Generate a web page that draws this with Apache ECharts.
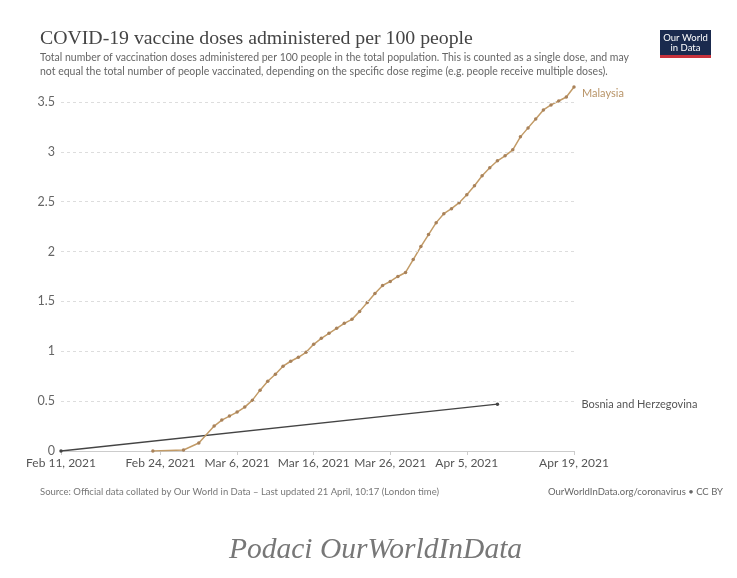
<!DOCTYPE html>
<html>
<head>
<meta charset="utf-8">
<script src="https://cdn.jsdelivr.net/npm/echarts@6/dist/echarts.min.js"></script>
<style>
html,body{margin:0;padding:0;background:#fff;}
#chart{width:737px;height:578px;}
</style>
</head>
<body>
<div id="chart"></div>
<script>
// ---- Data ----
const malaysiaDates = [
  '2021-02-23','2021-02-27','2021-03-01','2021-03-03','2021-03-04','2021-03-05','2021-03-06','2021-03-07',
  '2021-03-08','2021-03-09','2021-03-10','2021-03-11','2021-03-12','2021-03-13','2021-03-14','2021-03-15',
  '2021-03-16','2021-03-17','2021-03-18','2021-03-19','2021-03-20','2021-03-21','2021-03-22','2021-03-23',
  '2021-03-24','2021-03-25','2021-03-26','2021-03-27','2021-03-28','2021-03-29','2021-03-30','2021-03-31',
  '2021-04-01','2021-04-02','2021-04-03','2021-04-04','2021-04-05','2021-04-06','2021-04-07','2021-04-08',
  '2021-04-09','2021-04-10','2021-04-11','2021-04-12','2021-04-13','2021-04-14','2021-04-15','2021-04-16',
  '2021-04-17','2021-04-18','2021-04-19'
];
const malaysiaValues = [
  0.00,0.01,0.08,0.25,0.31,0.35,0.39,0.44,
  0.51,0.61,0.70,0.77,0.85,0.90,0.94,0.99,
  1.07,1.13,1.18,1.23,1.28,1.32,1.40,1.49,
  1.58,1.66,1.70,1.75,1.79,1.92,2.05,2.17,
  2.29,2.38,2.43,2.49,2.57,2.66,2.76,2.84,
  2.91,2.96,3.02,3.15,3.24,3.33,3.42,3.47,
  3.51,3.55,3.65
];
const bosniaDates = ['2021-02-11','2021-04-09'];
const bosniaValues = [0, 0.47];
const xTickDates = ['2021-02-11','2021-02-24','2021-03-06','2021-03-16','2021-03-26','2021-04-05','2021-04-19'];
const yTicks = [0,0.5,1,1.5,2,2.5,3,3.5];
const monthNames = ['Jan','Feb','Mar','Apr','May','Jun','Jul','Aug','Sep','Oct','Nov','Dec'];

function ts(s){ const p = s.split('-').map(Number); return Date.UTC(p[0], p[1]-1, p[2]); }
function fmt(v){ const d = new Date(v); return monthNames[d.getUTCMonth()] + ' ' + d.getUTCDate() + ', ' + d.getUTCFullYear(); }

const malaysiaData = malaysiaDates.map((d,i)=>[ts(d), malaysiaValues[i]]);
const bosniaData = bosniaDates.map((d,i)=>[ts(d), bosniaValues[i]]);
const xTicks = xTickDates.map(ts);

const chart = echarts.init(document.getElementById('chart'), null, {renderer:'canvas'});
const option = {
  backgroundColor:'#ffffff',
  animation:false,
  title:[
    {text:'COVID-19 vaccine doses administered per 100 people', left:40, top:29, padding:0,
     textStyle:{fontFamily:'Liberation Serif', fontSize:19.8, fontWeight:'normal', color:'#444'}},
    {text:'Total number of vaccination doses administered per 100 people in the total population. This is counted as a single dose, and may\nnot equal the total number of people vaccinated, depending on the specific dose regime (e.g. people receive multiple doses).',
     left:40, top:51, padding:0, textStyle:{fontFamily:'Lato', fontSize:10.5, fontWeight:'normal', color:'#666', lineHeight:14}}
  ],
  grid:{left:61, right:163, top:87, bottom:127, containLabel:false},
  xAxis:{
    type:'value', min:ts('2021-02-11'), max:ts('2021-04-19'),
    axisLine:{show:true, lineStyle:{color:'#ccc', width:1}},
    axisTick:{show:true, customValues:xTicks, length:4, lineStyle:{color:'#ccc'}},
    axisLabel:{customValues:xTicks, formatter:v=>fmt(v), color:'#555', fontFamily:'Lato', fontSize:12, margin:6, hideOverlap:false},
    splitLine:{show:false}
  },
  yAxis:{
    type:'value', min:0, max:3.65,
    axisLine:{show:false}, axisTick:{show:false},
    axisLabel:{customValues:yTicks, color:'#666', fontFamily:'Lato', fontSize:12.5, margin:6},
    splitLine:{show:false}
  },
  series:[
    {name:'grid', type:'line', data:[], silent:true,
     markLine:{silent:true, symbol:'none', label:{show:false},
       lineStyle:{color:'#ddd', type:[3,3], width:1},
       data:yTicks.filter(v=>v>0).map(v=>({yAxis:v}))}},
    {name:'Bosnia and Herzegovina', type:'line', data:bosniaData,
     symbol:'circle', symbolSize:3.5, showAllSymbol:true,
     lineStyle:{color:'#444', width:1.4}, itemStyle:{color:'#444'},
     endLabel:{show:true, formatter:'{a}', offset:[76,0], color:'#555', fontFamily:'Lato', fontSize:11}},
    {name:'Malaysia', type:'line', data:malaysiaData,
     symbol:'circle', symbolSize:3.5, showAllSymbol:true,
     lineStyle:{color:'#c29b67', width:1.5}, itemStyle:{color:'#a9825a'},
     endLabel:{show:true, formatter:'{a}', offset:[0,6], color:'#b89468', fontFamily:'Lato', fontSize:11}}
  ],
  graphic:[
    {type:'group', left:660, top:30, children:[
      {type:'rect', shape:{x:0,y:0,width:51,height:25}, style:{fill:'#1a2a4e'}},
      {type:'rect', shape:{x:0,y:25,width:51,height:3}, style:{fill:'#c8323c'}},
      {type:'text', style:{x:25.5, y:3, text:'Our World\nin Data', fill:'#fff', font:'9.5px Lato', align:'center', lineHeight:10}}
    ]},
    {type:'text', left:40, top:487, style:{text:'Source: Official data collated by Our World in Data \u2013 Last updated 21 April, 10:17 (London time)', fill:'#777', font:'9.5px Lato'}},
    {type:'text', right:14, top:487, style:{text:'OurWorldInData.org/coronavirus \u2022 CC BY', fill:'#666', font:'9.5px Lato'}},
    {type:'text', left:229, top:535, style:{text:'Podaci OurWorldInData', fill:'#777', font:'italic 29.5px "Liberation Serif"'}}
  ]
};
chart.setOption(option);
</script>
</body>
</html>
